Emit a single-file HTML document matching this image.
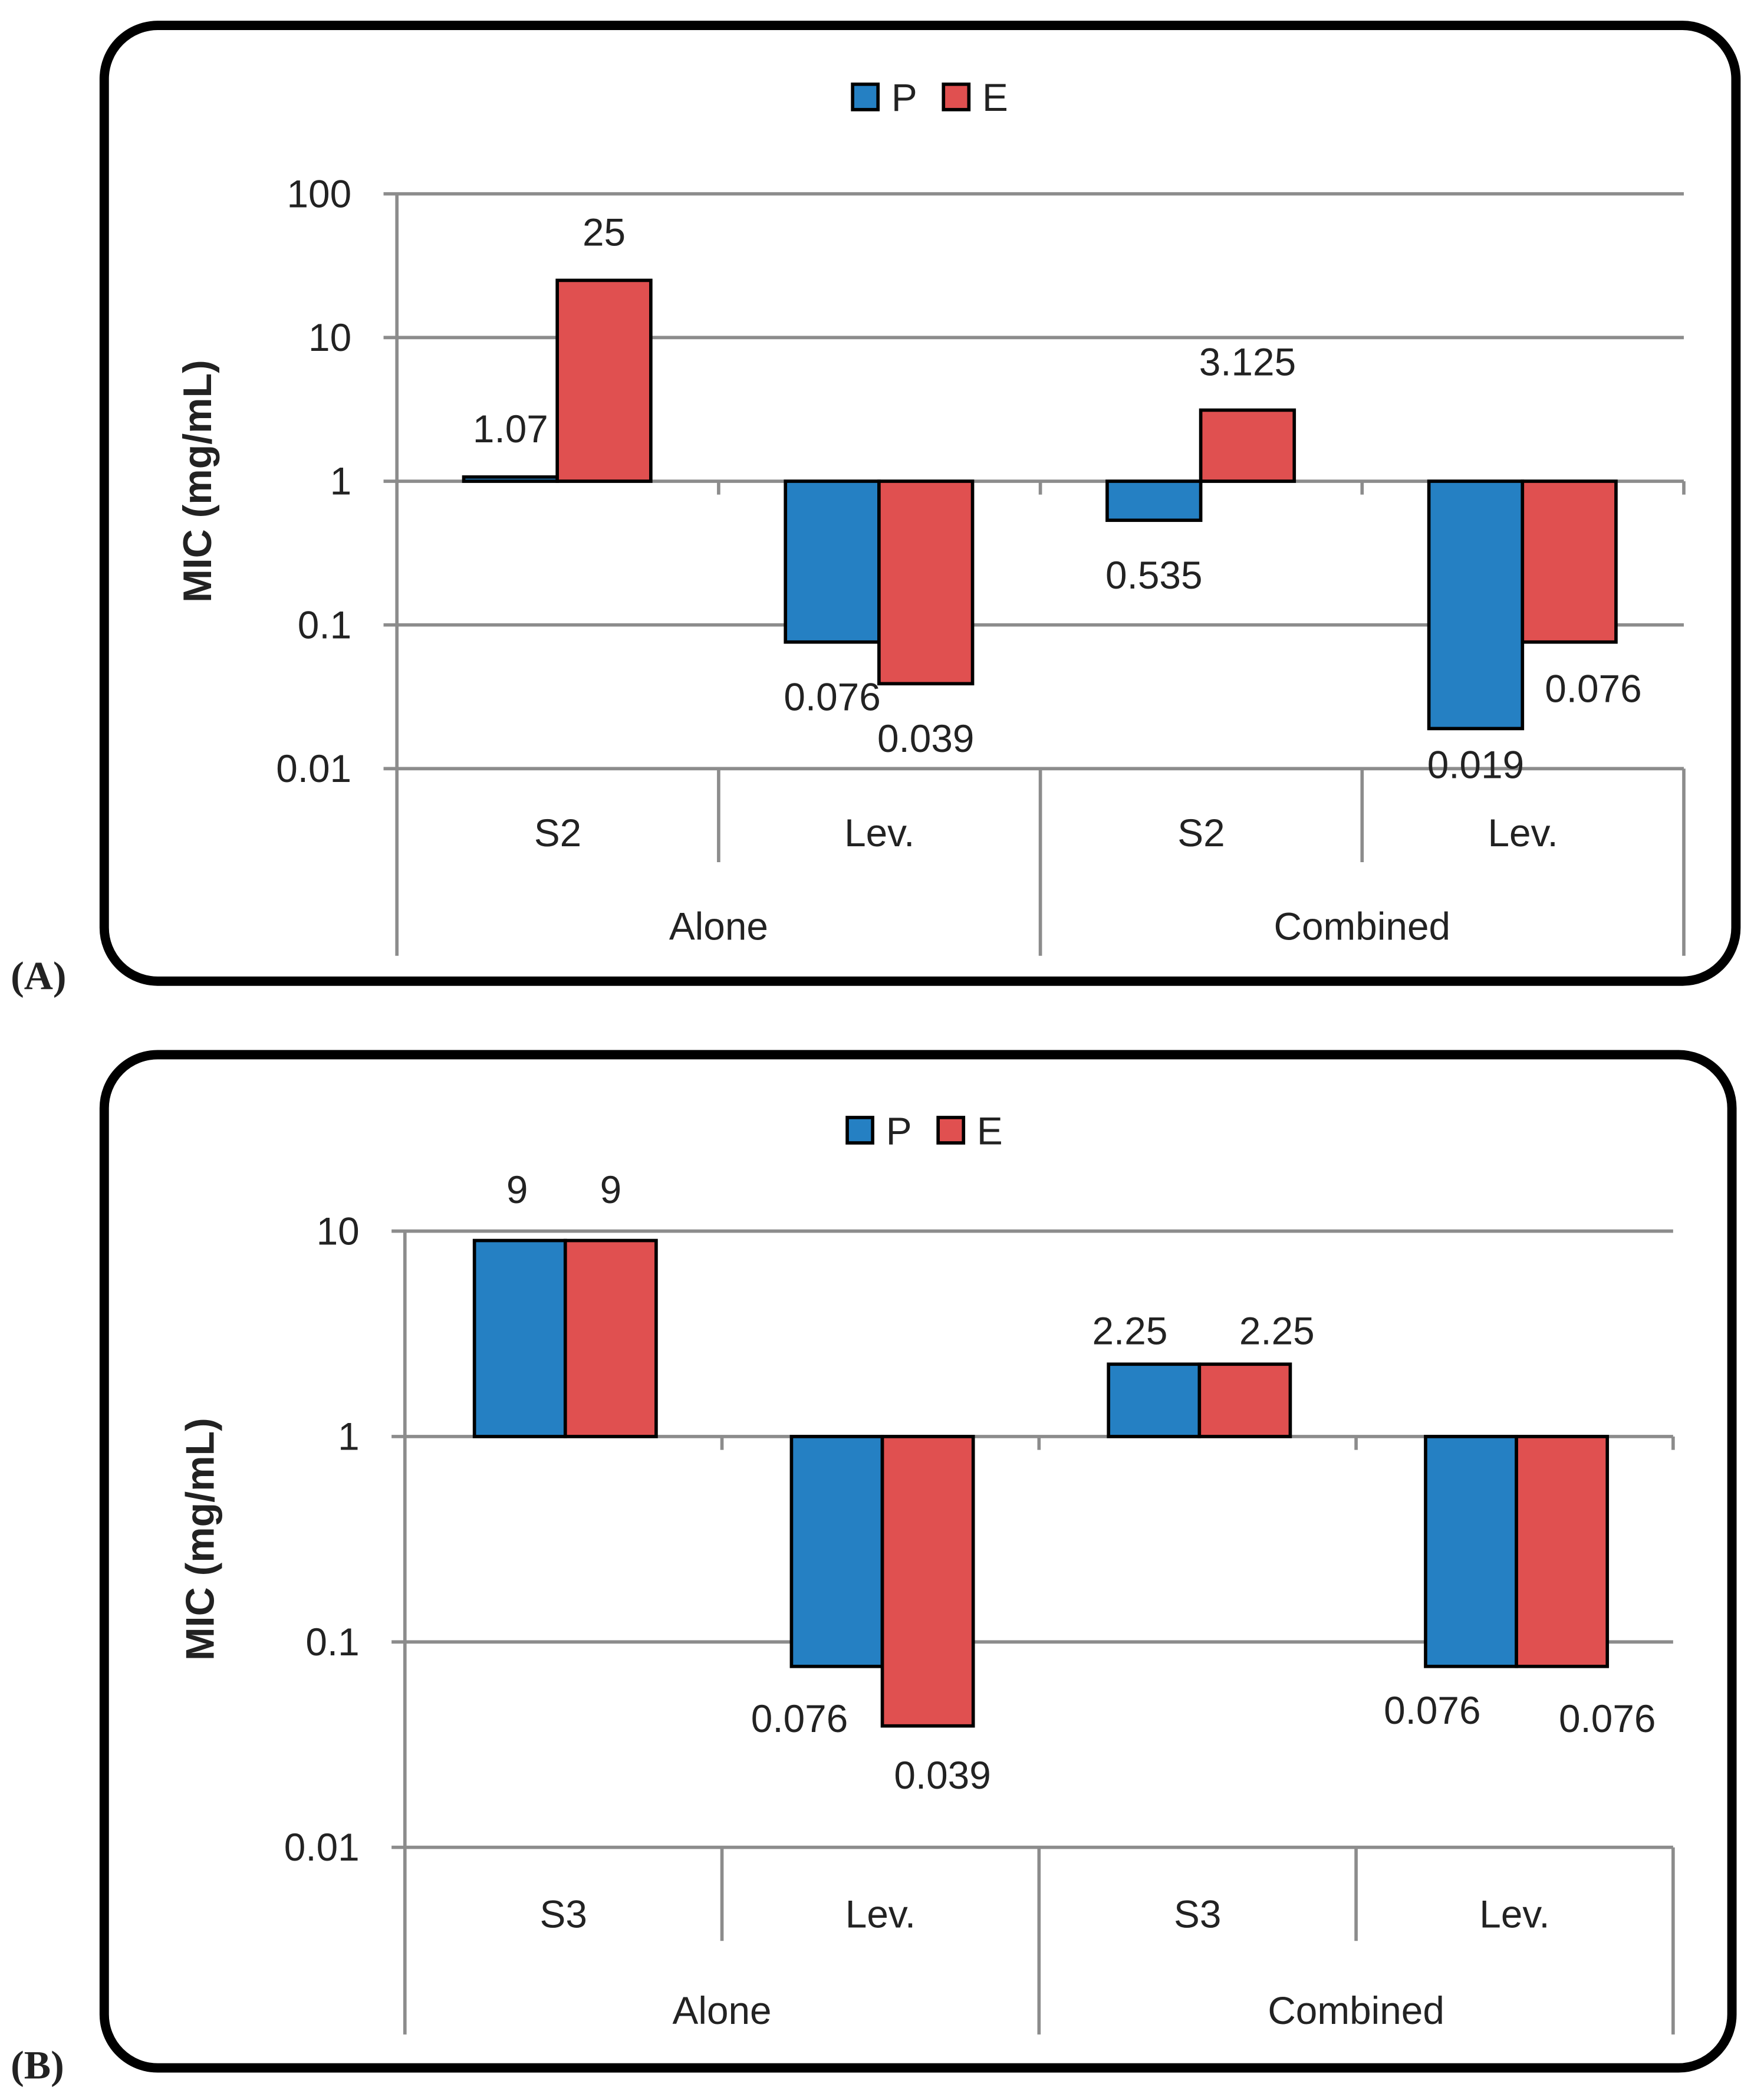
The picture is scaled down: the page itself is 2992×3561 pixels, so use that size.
<!DOCTYPE html>
<html><head><meta charset="utf-8"><style>
html,body{margin:0;padding:0;background:#fff}
svg{display:block}
text{font-family:"Liberation Sans",sans-serif;fill:#222}
</style></head><body>
<svg id="root" xmlns="http://www.w3.org/2000/svg" width="2992" height="3561" viewBox="0 0 1320 1571">
<rect x="78" y="19" width="1221" height="715" rx="40" fill="#fff" stroke="#000" stroke-width="7"/>
<rect x="78" y="789" width="1218" height="758" rx="40" fill="#fff" stroke="#000" stroke-width="7"/>
<text x="8" y="740" font-weight="bold" font-size="30" style="font-family:'Liberation Serif',serif">(A)</text>
<text x="8" y="1555" font-weight="bold" font-size="30" style="font-family:'Liberation Serif',serif">(B)</text>
<g id="ga"></g>
<g id="gb"></g>
</svg>
<script>
// Chart A data
const catsA = ["S2","Lev.","S2","Lev."];
const groupsA = ["Alone","Combined"];
const pA = [1.07,0.076,0.535,0.019];
const eA = [25,0.039,3.125,0.076];
const pLabA = ["1.07","0.076","0.535","0.019"];
const eLabA = ["25","0.039","3.125","0.076"];
const ticksA = [100,10,1,0.1,0.01];
const tickLabA = ["100","10","1","0.1","0.01"];
// Chart B data
const catsB = ["S3","Lev.","S3","Lev."];
const groupsB = ["Alone","Combined"];
const pB = [9,0.076,2.25,0.076];
const eB = [9,0.039,2.25,0.076];
const pLabB = ["9","0.076","2.25","0.076"];
const eLabB = ["9","0.039","2.25","0.076"];
const ticksB = [10,1,0.1,0.01];
const tickLabB = ["10","1","0.1","0.01"];

const NS="http://www.w3.org/2000/svg";
function mk(parent,tag,attrs,txt){const e=document.createElementNS(NS,tag);for(const k in attrs)e.setAttribute(k,attrs[k]);if(txt!==undefined)e.textContent=txt;parent.appendChild(e);return e;}

function draw(g,cfg){
  const {cats,groups,p,e,pl,el,ticks,tickLab,x0,x1,yTop,yBot,maxV,minV,legY,legX,titleX,catY,grpY,gap,barW,lblAbove,lblBelow,nudge}=cfg;
  const lmax=Math.log10(maxV),lmin=Math.log10(minV);
  const y=v=>yTop+(lmax-Math.log10(v))/(lmax-lmin)*(yBot-yTop);
  const cw=(x1-x0)/cats.length;
  const base=y(1);
  ticks.forEach((t,i)=>{
    const l=mk(g,'line',{x1:x0-10,x2:x1,y1:y(t),y2:y(t),stroke:'#8c8c8c','stroke-width':2.5});
    
    
    const tx=mk(g,'text',{x:x0-34,y:y(t)+10,'font-size':29,'text-anchor':'end'},tickLab[i]);
    
    
  });
  const ax=mk(g,'line',{x1:x0,x2:x0,y1:yTop,y2:yBot+140,stroke:'#8c8c8c','stroke-width':2.5});
  
  
  for(let i=1;i<=cats.length;i++){
    const xx=x0+i*cw;
    const full=(i%2===0);
    const l=mk(g,'line',{x1:xx,x2:xx,y1:yBot,y2:yBot+(full?140:70),stroke:'#8c8c8c','stroke-width':2.5});
    
    
    const tk=mk(g,'line',{x1:xx,x2:xx,y1:base,y2:base+10,stroke:'#8c8c8c','stroke-width':2.5});
    
    
  }
  cats.forEach((c,i)=>{
    const t=mk(g,'text',{x:x0+(i+0.5)*cw,y:catY,'font-size':29,'text-anchor':'middle'},c);
    
    
  });
  groups.forEach((c,i)=>{
    const t=mk(g,'text',{x:x0+(i+0.5)*2*cw,y:grpY,'font-size':29,'text-anchor':'middle'},c);
    
    
  });
  const series=[[p,pl,'#2580c3','bar-p'],[e,el,'#e05050','bar-e']];
  series.forEach(([vals,labs,col,nm],s)=>{
    vals.forEach((v,i)=>{
      const bx=x0+i*cw+gap+s*barW;
      const yv=y(v);
      const r=mk(g,'rect',{x:bx,y:Math.min(yv,base),width:barW,height:Math.max(1.5,Math.abs(yv-base)),fill:col,stroke:'#000','stroke-width':2.5});
      
      
      const nd=nudge[s][i];
      const ly=v>=1?Math.min(yv,base)-lblAbove:yv+lblBelow;
      const t=mk(g,'text',{x:bx+barW/2+nd[0],y:ly+nd[1],'font-size':29,'text-anchor':'middle'},labs[i]);
      
      
    });
  });
  const lg=mk(g,'g',{});
  
  
  [['P','#2580c3'],['E','#e05050']].forEach(([n,c],i)=>{
    const bx=legX+i*68;
    const r=mk(lg,'rect',{x:bx,y:legY-10,width:19,height:19,fill:c,stroke:'#000','stroke-width':2.5});
    
    
    const t=mk(lg,'text',{x:bx+29,y:legY+10,'font-size':29},n);
    
    
  });
  const tt=mk(g,'text',{x:0,y:0,'font-size':30,'font-weight':'bold','text-anchor':'middle',transform:`translate(${titleX},${(yTop+yBot)/2}) rotate(-90)`},'MIC (mg/mL)');
  
  
}
draw(document.getElementById('ga'),{cats:catsA,groups:groupsA,p:pA,e:eA,pl:pLabA,el:eLabA,ticks:ticksA,tickLab:tickLabA,
  x0:297,x1:1260,yTop:145,yBot:575,maxV:100,minV:0.01,legY:73,legX:638,titleX:158,catY:633,grpY:703,gap:50,barW:70,lblAbove:26,lblBelow:51,
  nudge:[[[0,0],[0,0],[0,0],[0,-14]],[[0,0],[0,0],[0,0],[18,-6]]]});
draw(document.getElementById('gb'),{cats:catsB,groups:groupsB,p:pB,e:eB,pl:pLabB,el:eLabB,ticks:ticksB,tickLab:tickLabB,
  x0:303,x1:1252,yTop:921,yBot:1382,maxV:10,minV:0.01,legY:846,legX:634,titleX:160,catY:1442,grpY:1514,gap:52,barW:68,lblAbove:28,lblBelow:49,
  nudge:[[[-2,0],[-28,0],[-18,13],[-29,-6]],[[0,0],[11,-2],[24,13],[34,0]]]});
</script>
</body></html>
